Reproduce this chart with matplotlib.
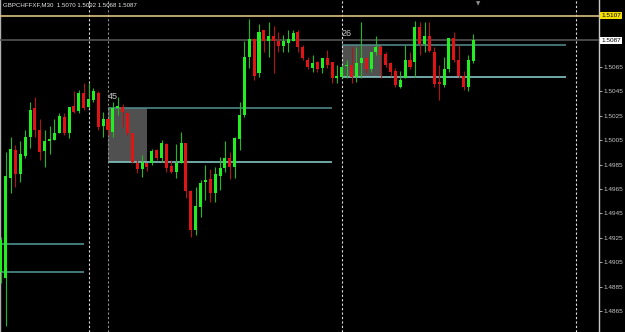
import matplotlib
matplotlib.use("Agg")
import matplotlib.pyplot as plt
import numpy as np

plt.rcParams['font.family'] = ['Liberation Sans', 'DejaVu Sans']

symbol_title = "GBPCHFFXF,M30  1.5070 1.5092 1.5068 1.5087"

opens = [1.4897, 1.4892, 1.4974, 1.4997, 1.4977, 1.4992, 1.5008, 1.5031, 1.5013, 1.4996,
         1.5004, 1.5005, 1.5011, 1.5024, 1.5011, 1.5033, 1.5029, 1.5044, 1.5032, 1.5038,
         1.5044, 1.5017, 1.5022, 1.5012, 1.5031, 1.5032, 1.5027, 1.5011, 1.4986, 1.4981,
         1.4986, 1.4986, 1.4997, 1.4990, 1.5002, 1.4984, 1.4979, 1.4986, 1.5003, 1.4963,
         1.4931, 1.4950, 1.4971, 1.4973, 1.4962, 1.4976, 1.4982, 1.4990, 1.4983, 1.5006,
         1.5026, 1.5073, 1.5088, 1.5060, 1.5095, 1.5086, 1.5090, 1.5086, 1.5082, 1.5085,
         1.5086, 1.5094, 1.5081, 1.5071, 1.5064, 1.5069, 1.5064, 1.5072, 1.5069, 1.5056,
         1.5057, 1.5066, 1.5067, 1.5057, 1.5068, 1.5072, 1.5063, 1.5077, 1.5081, 1.5076,
         1.5068, 1.5062, 1.5049, 1.5056, 1.5071, 1.5069, 1.5098, 1.5084, 1.5090, 1.5077,
         1.5053, 1.5050, 1.5063, 1.5089, 1.5071, 1.5058, 1.5049, 1.5070]
highs = [1.4926, 1.4995, 1.5008, 1.5001, 1.5004, 1.5013, 1.5036, 1.5040, 1.5022, 1.5013,
         1.5017, 1.5022, 1.5027, 1.5027, 1.5032, 1.5045, 1.5046, 1.5052, 1.5052, 1.5048,
         1.5045, 1.5028, 1.5022, 1.5036, 1.5040, 1.5035, 1.5028, 1.5011, 1.4989, 1.4993,
         1.4986, 1.4998, 1.4998, 1.5005, 1.5003, 1.4989, 1.5002, 1.5012, 1.5003, 1.4964,
         1.4967, 1.4972, 1.4985, 1.4981, 1.4983, 1.4991, 1.5004, 1.4995, 1.5008, 1.5036,
         1.5086, 1.5104, 1.5089, 1.5100, 1.5095, 1.5102, 1.5099, 1.5094, 1.5091, 1.5095,
         1.5095, 1.5095, 1.5083, 1.5073, 1.5075, 1.5070, 1.5072, 1.5079, 1.5069, 1.5067,
         1.5067, 1.5071, 1.5081, 1.5081, 1.5102, 1.5073, 1.5077, 1.5090, 1.5083, 1.5077,
         1.5069, 1.5064, 1.5062, 1.5083, 1.5077, 1.5103, 1.5102, 1.5102, 1.5102, 1.5081,
         1.5067, 1.5073, 1.5089, 1.5094, 1.5083, 1.5062, 1.5075, 1.5092]
lows = [1.4888, 1.4853, 1.4962, 1.4967, 1.4971, 1.4990, 1.4999, 1.5008, 1.4989, 1.4983,
        1.4994, 1.5005, 1.5011, 1.5009, 1.5007, 1.5027, 1.5027, 1.5030, 1.5031, 1.5036,
        1.5013, 1.5008, 1.5009, 1.5008, 1.5026, 1.5016, 1.5009, 1.4986, 1.4978, 1.4975,
        1.4980, 1.4985, 1.4989, 1.4987, 1.4979, 1.4978, 1.4974, 1.4986, 1.4958, 1.4926,
        1.4927, 1.4942, 1.4956, 1.4954, 1.4954, 1.4964, 1.4979, 1.4973, 1.4974, 1.4997,
        1.5024, 1.5064, 1.5054, 1.5057, 1.5077, 1.5073, 1.5060, 1.5077, 1.5077, 1.5077,
        1.5086, 1.5077, 1.5071, 1.5063, 1.5061, 1.5061, 1.5060, 1.5064, 1.5052, 1.5052,
        1.5056, 1.5056, 1.5052, 1.5053, 1.5056, 1.5061, 1.5061, 1.5075, 1.5056, 1.5065,
        1.5058, 1.5049, 1.5048, 1.5056, 1.5063, 1.5057, 1.5075, 1.5077, 1.5077, 1.5049,
        1.5038, 1.5049, 1.5061, 1.5069, 1.5056, 1.5046, 1.5045, 1.5068]
closes = [1.4923, 1.4976, 1.4998, 1.4977, 1.4994, 1.5008, 1.5030, 1.5013, 1.4995, 1.5004,
          1.5006, 1.5011, 1.5025, 1.5011, 1.5032, 1.5028, 1.5044, 1.5031, 1.5039, 1.5045,
          1.5016, 1.5022, 1.5013, 1.5031, 1.5033, 1.5028, 1.5011, 1.4987, 1.4981, 1.4987,
          1.4983, 1.4996, 1.4990, 1.5003, 1.4982, 1.4979, 1.4986, 1.5003, 1.4963, 1.4931,
          1.4951, 1.4970, 1.4972, 1.4962, 1.4977, 1.4982, 1.4990, 1.4983, 1.5007, 1.5026,
          1.5073, 1.5088, 1.5058, 1.5094, 1.5086, 1.5090, 1.5086, 1.5082, 1.5086, 1.5088,
          1.5093, 1.5081, 1.5072, 1.5065, 1.5068, 1.5063, 1.5072, 1.5067, 1.5056, 1.5058,
          1.5065, 1.5067, 1.5057, 1.5068, 1.5072, 1.5063, 1.5077, 1.5081, 1.5075, 1.5067,
          1.5061, 1.5050, 1.5054, 1.5071, 1.5065, 1.5098, 1.5084, 1.5090, 1.5078, 1.5051,
          1.5051, 1.5063, 1.5089, 1.5071, 1.5058, 1.5049, 1.5071, 1.5087]

y_tick_values = [1.4865, 1.4885, 1.4905, 1.4925, 1.4945, 1.4965, 1.4985, 1.5005,
                 1.5025, 1.5045, 1.5065, 1.5085, 1.5105]
alert_level = 1.5107
bid_level = 1.5087

# zones: (label, start bar, box end bar, line end bar, top, bottom)
zone_labels = ["45", "26"]
zone_start = [22, 70]
zone_box_end = [30, 78]
zone_line_end = [68, 116]
zone_top = [1.5031, 1.5083]
zone_bottom = [1.4987, 1.5057]

old_levels = [1.4920, 1.4897]
old_levels_end = 17

sep_white = [18, 70, 118]
sep_gray = [22]

O = np.array(opens); H = np.array(highs); L = np.array(lows); C = np.array(closes)
x = np.arange(len(O))
up = C >= O

fig = plt.figure(figsize=(6.25, 3.32), dpi=100, facecolor='black')
ax = fig.add_axes([0, 0, 599 / 625, 1])
ax.set_facecolor('black')
ax.set_xlim(-0.17, 122.8)
ax.set_ylim(1.48478, 1.51199)

# zones
for lab, s, be, le, t, b in zip(zone_labels, zone_start, zone_box_end, zone_line_end, zone_top, zone_bottom):
    ax.fill_between([s, be], b, t, color='#505050', lw=0, zorder=1)
    ax.hlines(t, s, le, color='#4f8585', lw=1.2, zorder=2)
    ax.hlines(b, s, le, color='#86c4c4', lw=1.2, zorder=2)
    ax.text(s, t + 0.0006, lab, color='#c8c8c8', fontsize=6.5, ha='left', va='bottom', zorder=5)

ax.hlines(old_levels, -0.17, old_levels_end, color='#4f8f8f', lw=1.2, zorder=2)

# separators
for s in sep_white:
    ax.axvline(s, color='#e0e0e0', lw=0.8, ls=(0, (2, 2)), zorder=2)
for s in sep_gray:
    ax.axvline(s, color='#909090', lw=0.8, ls=(0, (2, 2)), zorder=2)

# horizontal price lines
ax.axhline(alert_level, color='#d9c084', lw=1.2, zorder=3)
ax.axhline(bid_level, color='#555555', lw=1.2, zorder=3)

# candles
wick_col = np.where(up, '#22b822', '#b01515')
body_col = np.where(up, '#22ee22', '#e01414')
ax.vlines(x, L, H, colors=wick_col, lw=0.8, zorder=4)
body_h = np.where(np.abs(C - O) < 0.00004, 0.00004, C - O)
ax.bar(x, body_h, bottom=O, width=0.62, color=body_col, lw=0, zorder=5)

# axes styling
for side in ['top', 'bottom']:
    ax.spines[side].set_visible(False)
ax.spines['left'].set_color('#b0b0b0')
ax.spines['left'].set_linewidth(1.0)
ax.spines['right'].set_color('#c8c8c8')
ax.spines['right'].set_linewidth(1.0)
ax.set_xticks([])
ax.yaxis.tick_right()
ax.set_yticks(y_tick_values)
# labels hidden under the price boxes are left blank
covered = [alert_level, bid_level]
ax.set_yticklabels(["" if any(abs(v - c) < 0.0005 for c in covered) else f"{v:.4f}"
                    for v in y_tick_values])
ax.tick_params(axis='y', colors='#c8c8c8', labelsize=4.6, length=2, width=0.6, pad=1.5)

# price boxes
yt = ax.get_yaxis_transform()
ax.text(1.004, alert_level, f"{alert_level:.4f}", transform=yt, ha='left', va='center',
        fontsize=4.6, color='black', bbox=dict(fc='#f4e000', ec='none', pad=0.8), clip_on=False, zorder=10)
ax.text(1.004, bid_level, f"{bid_level:.4f}", transform=yt, ha='left', va='center',
        fontsize=4.6, color='black', bbox=dict(fc='white', ec='none', pad=0.8), clip_on=False, zorder=10)

# header
ax.text(0.005, 0.992, symbol_title, transform=ax.transAxes, ha='left', va='top',
        fontsize=4.4, color='#e8e8e8', zorder=10)
# chart shift marker
ax.text(98, 0.997, "\u25bc", transform=ax.get_xaxis_transform(), ha='center', va='top',
        fontsize=4, color='#909090', family='DejaVu Sans', zorder=10)

fig.savefig('out.png', dpi=100, facecolor='black')
